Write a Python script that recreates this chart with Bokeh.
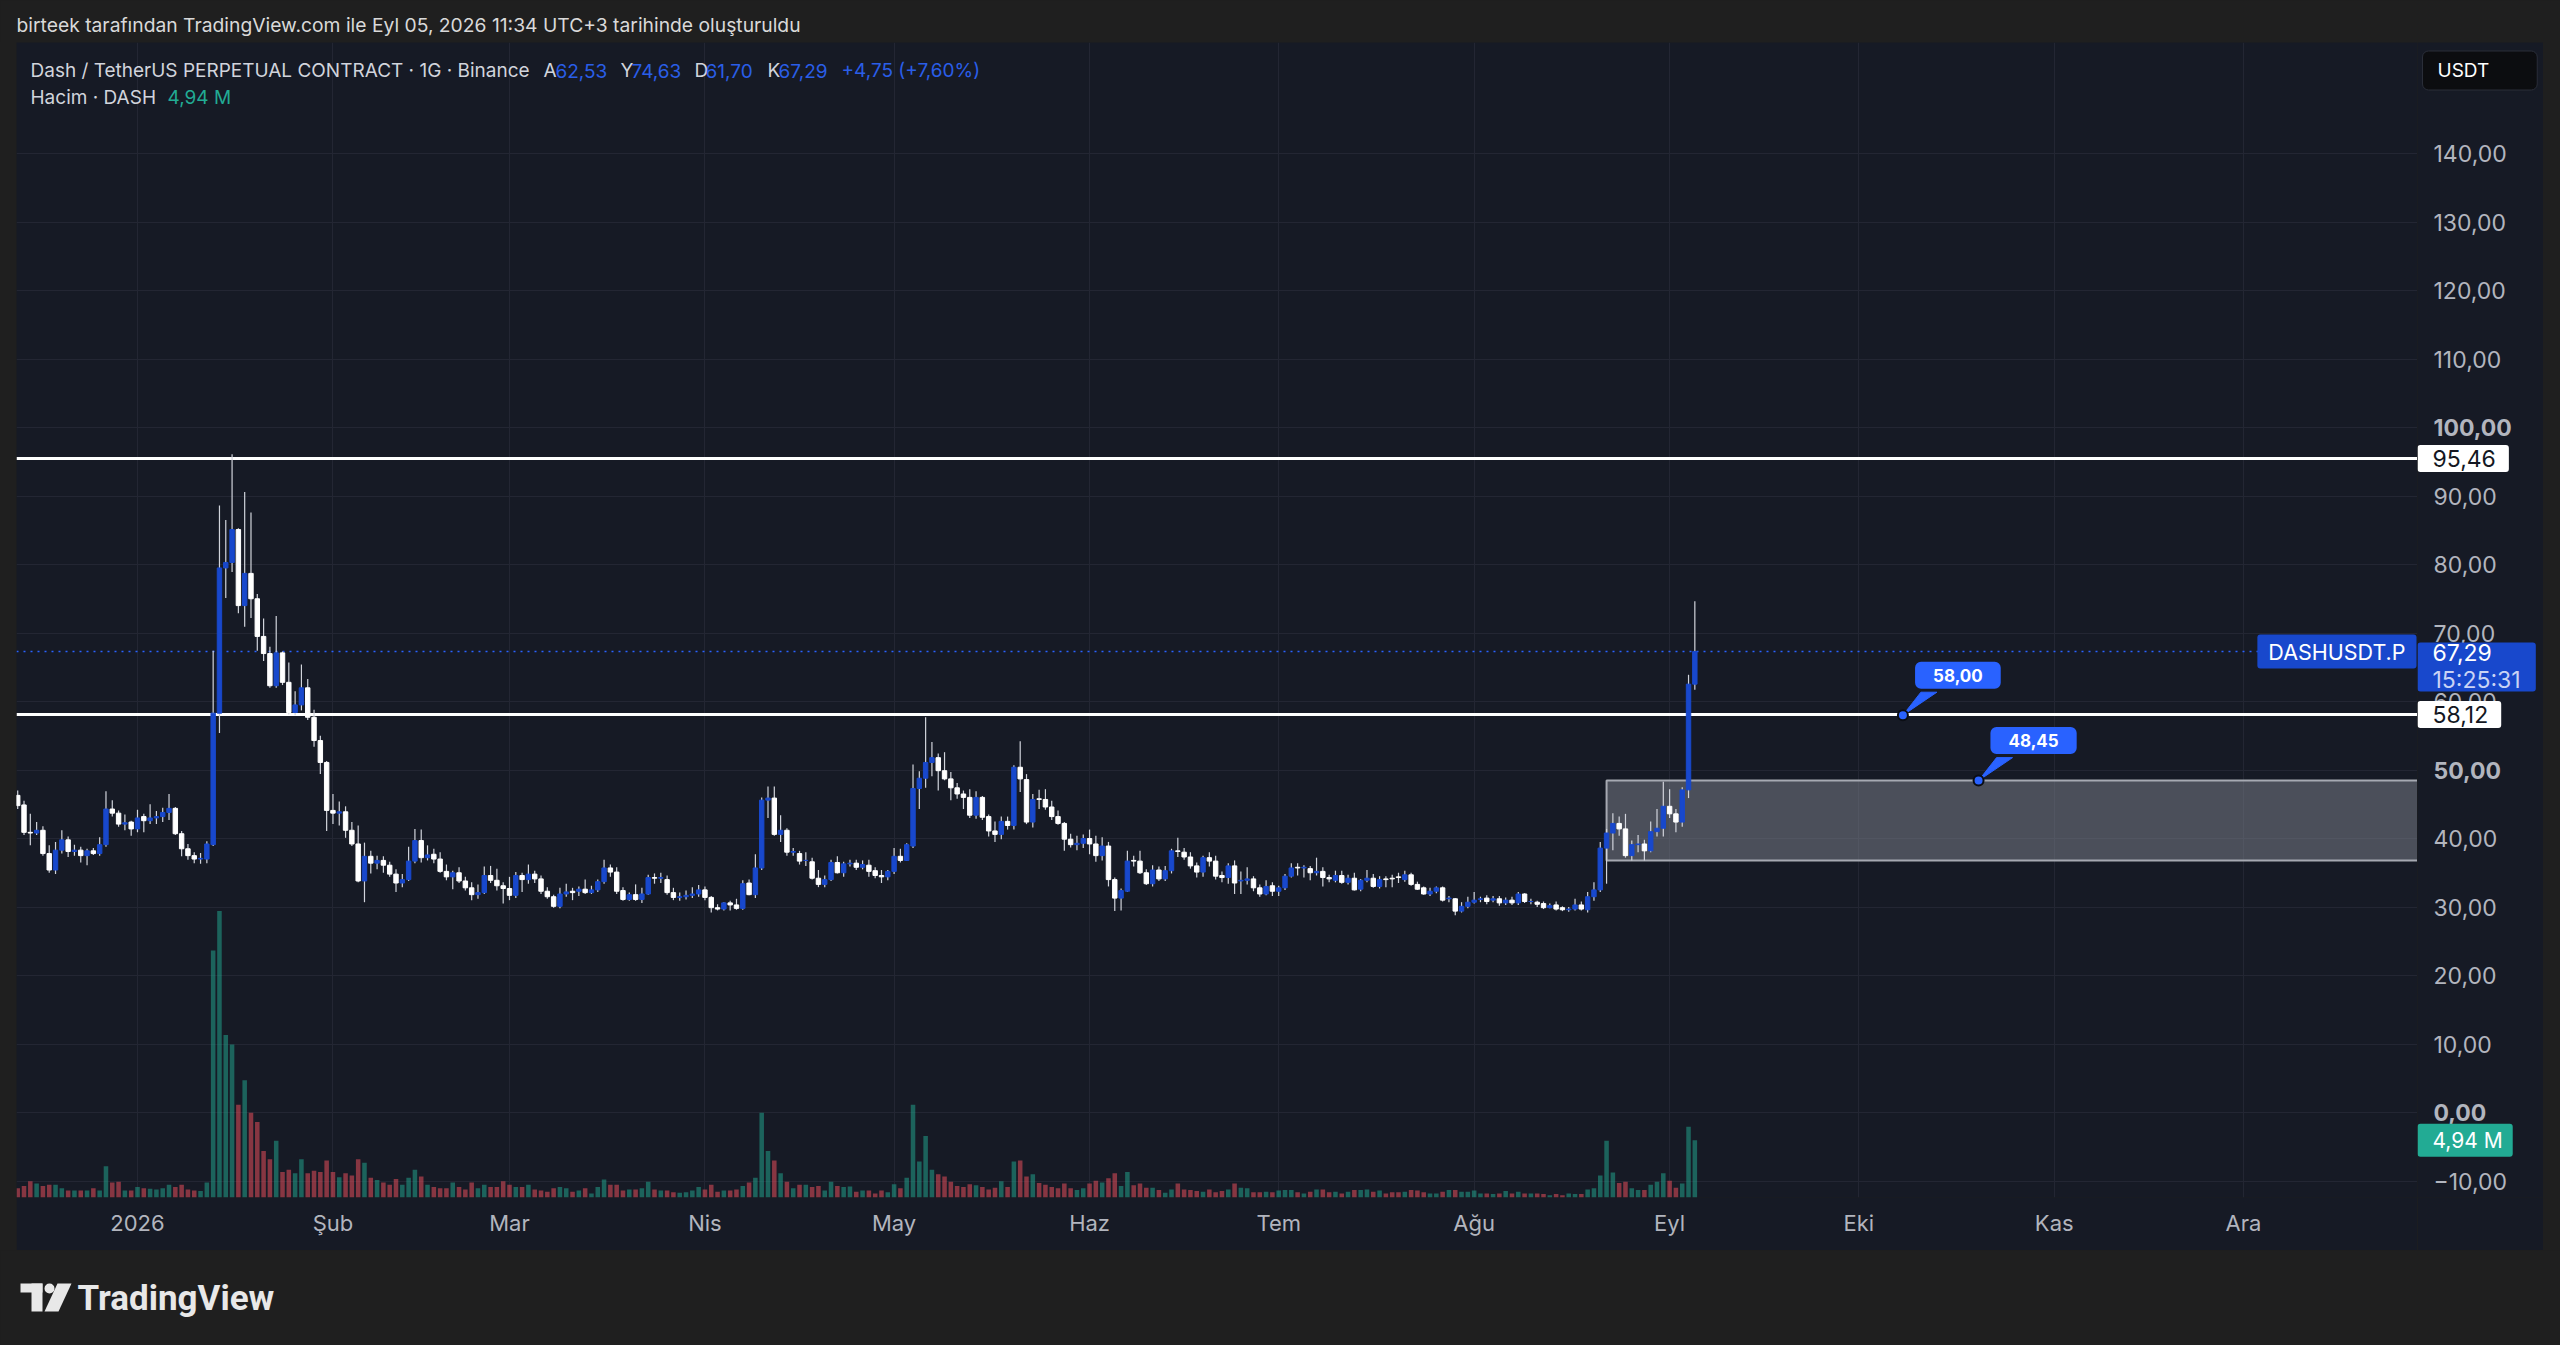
import json
import pandas as pd
from bokeh.plotting import figure
from bokeh.models import Range1d, FixedTicker, CustomJSTickFormatter, Label, ColumnDataSource, Spacer, Grid
from bokeh.layouts import column, row
from bokeh.core.properties import value
from bokeh.embed import file_html
from bokeh.resources import INLINE

# ---------------- data (daily candles, DASHUSDT.P) ----------------
first_day = "2025-12-13"
opens = [
    46.3, 44.9, 40.9, 40.8, 41.2, 37.8, 35.4, 38.3, 39.8, 38.1,
    38.3, 37.5, 38.2, 37.8, 39.1, 44.3, 43.7, 42.1, 42.4, 41.4,
    43.2, 42.6, 43.0, 43.2, 43.8, 44.4, 40.7, 38.5, 37.5, 37.0,
    37.0, 39.1, 58.3, 79.5, 80.3, 85.1, 74.0, 78.7, 75.0, 69.5,
    67.0, 62.3, 67.1, 62.8, 58.4, 59.5, 62.0, 57.7, 54.3, 51.1,
    44.1, 43.7, 43.9, 41.2, 39.2, 33.8, 37.4, 36.4, 36.8, 36.1,
    34.8, 33.5, 34.0, 36.7, 39.7, 37.2, 37.7, 37.0, 35.2, 34.4,
    35.0, 33.8, 32.8, 31.8, 32.1, 34.6, 33.9, 33.1, 32.7, 31.7,
    34.6, 34.0, 34.8, 34.1, 32.3, 31.5, 30.1, 31.9, 32.3, 32.3,
    32.6, 32.1, 32.5, 33.7, 35.7, 35.1, 32.4, 31.1, 31.8, 31.1,
    31.9, 34.3, 34.2, 34.0, 32.1, 31.4, 31.5, 31.7, 31.9, 32.5,
    31.4, 29.9, 29.7, 30.6, 30.3, 29.8, 33.5, 31.8, 35.7, 45.6,
    45.9, 40.6, 41.2, 38.0, 37.8, 36.8, 36.6, 34.2, 33.3, 34.0,
    36.5, 35.0, 36.3, 36.4, 35.8, 36.1, 35.3, 34.6, 34.4, 35.2,
    37.4, 36.8, 38.9, 47.3, 48.8, 51.1, 51.8, 49.9, 48.7, 47.4,
    46.5, 46.0, 43.4, 46.0, 43.2, 41.1, 40.6, 42.5, 41.9, 50.4,
    48.6, 42.4, 45.8, 45.7, 44.6, 43.2, 42.2, 39.9, 39.1, 39.3,
    40.0, 39.2, 37.5, 38.9, 34.0, 31.3, 32.3, 36.8, 36.7, 35.0,
    33.4, 35.4, 34.1, 35.3, 38.2, 38.0, 37.3, 36.0, 35.1, 37.2,
    36.7, 34.6, 34.3, 36.0, 33.8, 33.9, 34.1, 32.8, 31.9, 33.1,
    32.3, 32.8, 34.5, 35.8, 35.7, 35.6, 35.0, 35.2, 34.3, 33.9,
    34.6, 33.6, 34.2, 32.6, 33.9, 34.2, 33.0, 34.1, 34.2, 34.4,
    34.0, 34.7, 33.3, 32.8, 31.9, 32.3, 32.8, 31.2, 31.2, 29.4,
    30.1, 30.7, 31.1, 31.3, 31.0, 31.2, 30.6, 31.0, 30.6, 31.9,
    30.8, 30.7, 30.5, 29.9, 30.3, 29.9, 29.6, 29.7, 30.3, 29.6,
    31.5, 32.5, 38.6, 40.8, 42.2, 41.4, 37.5, 39.1, 39.2, 38.2,
    41.0, 41.5, 44.7, 43.6, 42.4, 47.1, 62.53,
]
closes = [
    44.8, 40.9, 40.8, 41.2, 37.8, 35.4, 38.3, 39.8, 38.1, 38.3,
    37.5, 38.2, 37.8, 39.1, 44.3, 43.7, 42.1, 42.3, 41.4, 43.0,
    42.6, 43.0, 43.2, 43.8, 44.4, 40.7, 38.5, 37.5, 37.0, 37.1,
    39.2, 58.3, 79.5, 80.3, 85.1, 74.0, 78.7, 75.0, 69.5, 67.0,
    62.3, 67.1, 62.8, 58.4, 59.5, 62.0, 57.7, 54.3, 51.1, 44.1,
    43.7, 43.9, 41.2, 39.2, 33.8, 37.4, 36.4, 36.8, 36.1, 34.8,
    33.5, 34.0, 36.7, 39.7, 37.2, 37.6, 37.0, 35.2, 34.4, 35.0,
    33.8, 32.8, 31.8, 32.1, 34.6, 33.9, 33.1, 32.7, 31.7, 34.6,
    34.0, 34.8, 34.1, 32.3, 31.5, 30.1, 31.9, 32.2, 32.1, 32.6,
    32.1, 32.5, 33.7, 35.7, 35.1, 32.3, 31.1, 31.8, 31.1, 31.9,
    34.3, 34.2, 34.3, 32.1, 31.4, 31.5, 31.7, 31.9, 32.5, 31.4,
    29.9, 29.7, 30.6, 30.3, 29.8, 33.4, 31.8, 35.7, 45.6, 45.9,
    40.6, 41.2, 38.0, 38.1, 36.7, 36.8, 34.2, 33.3, 34.0, 36.5,
    35.0, 36.3, 36.4, 35.8, 36.2, 35.2, 34.6, 34.4, 35.2, 37.4,
    36.8, 39.1, 47.3, 48.8, 51.1, 51.8, 49.9, 48.7, 47.4, 46.5,
    46.0, 43.4, 46.0, 43.1, 41.1, 40.6, 42.5, 41.9, 50.4, 48.7,
    42.4, 45.7, 45.7, 44.6, 43.2, 42.2, 39.9, 39.1, 39.3, 40.0,
    39.2, 37.5, 38.9, 34.0, 31.3, 32.4, 36.7, 36.7, 35.0, 33.4,
    35.4, 34.1, 35.3, 38.2, 38.1, 37.3, 36.0, 35.1, 37.2, 36.7,
    34.5, 34.3, 36.0, 33.5, 33.9, 34.1, 32.8, 31.9, 33.0, 32.3,
    32.8, 34.5, 35.7, 35.7, 35.8, 35.0, 35.2, 34.3, 34.1, 34.6,
    33.6, 34.2, 32.5, 33.9, 34.2, 33.0, 34.0, 34.0, 34.1, 34.3,
    34.7, 33.3, 32.6, 31.9, 32.3, 32.8, 31.0, 31.3, 29.4, 30.1,
    30.7, 31.0, 31.2, 30.8, 31.2, 30.6, 31.0, 30.6, 31.9, 30.8,
    30.8, 30.4, 29.9, 30.2, 29.7, 29.6, 29.7, 30.3, 29.7, 31.5,
    32.5, 38.6, 40.8, 42.2, 41.4, 37.5, 39.1, 39.2, 38.2, 41.0,
    41.5, 44.7, 43.6, 42.4, 47.1, 62.53, 67.29,
]
highs = [
    47.0, 45.5, 43.6, 42.4, 41.8, 39.0, 39.5, 41.2, 40.3, 39.1,
    38.8, 38.5, 38.6, 40.2, 46.9, 45.6, 44.1, 43.5, 42.6, 44.2,
    43.6, 45.0, 44.0, 44.5, 46.5, 44.6, 41.1, 39.2, 38.0, 37.9,
    39.6, 67.4, 88.6, 86.5, 96.1, 85.3, 90.6, 87.6, 75.7, 72.1,
    68.0, 72.5, 67.3, 65.7, 61.5, 65.4, 63.3, 58.8, 55.0, 51.3,
    46.5, 45.4, 44.7, 42.4, 41.9, 39.4, 38.2, 37.5, 37.4, 36.6,
    35.5, 34.8, 38.8, 41.4, 41.3, 39.0, 38.5, 38.0, 36.2, 35.3,
    35.8, 34.4, 33.6, 33.3, 35.9, 36.0, 35.6, 33.6, 34.4, 35.1,
    35.0, 36.2, 35.3, 34.6, 32.9, 31.8, 32.8, 33.4, 32.8, 33.0,
    34.0, 33.1, 34.0, 36.9, 36.2, 35.8, 32.9, 32.1, 33.3, 32.8,
    34.7, 34.9, 35.0, 34.6, 32.8, 32.1, 32.4, 32.9, 33.2, 33.0,
    31.6, 30.4, 30.7, 30.9, 31.2, 33.9, 34.0, 37.7, 46.0, 47.6,
    47.6, 43.4, 41.5, 38.6, 38.2, 38.0, 37.2, 35.4, 34.6, 36.9,
    37.4, 36.6, 36.9, 36.9, 36.8, 36.9, 35.8, 35.4, 35.4, 38.6,
    38.5, 39.3, 50.8, 49.8, 57.7, 54.1, 52.4, 52.6, 49.7, 48.1,
    47.0, 47.2, 46.9, 46.2, 43.5, 42.5, 43.2, 43.2, 50.7, 54.2,
    49.4, 46.5, 47.1, 47.2, 45.5, 44.1, 42.4, 40.7, 40.4, 40.6,
    41.3, 40.4, 40.2, 39.5, 34.3, 32.7, 38.2, 37.5, 38.2, 35.5,
    36.1, 35.9, 36.0, 38.5, 40.1, 38.6, 38.0, 36.5, 37.5, 38.0,
    37.5, 35.2, 36.4, 36.8, 35.2, 35.8, 34.5, 33.3, 33.9, 33.6,
    33.1, 34.8, 36.4, 36.4, 36.1, 36.0, 37.2, 35.8, 34.7, 35.3,
    35.3, 34.7, 35.0, 34.1, 35.4, 34.8, 34.5, 34.5, 34.7, 35.0,
    35.3, 35.0, 33.7, 33.0, 32.8, 33.0, 33.0, 31.6, 31.3, 30.7,
    31.5, 32.2, 31.5, 31.7, 31.6, 31.6, 31.4, 31.5, 32.2, 32.0,
    31.2, 30.9, 30.8, 30.5, 30.8, 30.1, 30.0, 31.2, 30.8, 32.2,
    33.6, 39.5, 41.4, 43.7, 43.2, 43.6, 39.7, 40.5, 39.8, 42.5,
    44.3, 48.3, 47.2, 44.3, 47.5, 63.9, 74.63,
]
lows = [
    44.3, 40.5, 39.0, 40.5, 37.5, 35.0, 34.8, 37.8, 37.3, 37.5,
    36.5, 36.1, 37.6, 37.5, 38.8, 43.2, 41.7, 41.2, 40.4, 40.9,
    40.9, 42.1, 42.1, 42.4, 42.7, 40.5, 37.4, 36.9, 36.4, 36.3,
    36.4, 38.9, 55.4, 75.1, 78.9, 72.9, 70.9, 72.2, 67.4, 65.9,
    62.0, 62.0, 62.4, 58.1, 58.0, 58.7, 57.3, 53.4, 49.4, 41.1,
    42.1, 41.9, 40.1, 38.9, 33.6, 30.7, 34.9, 35.5, 35.0, 34.4,
    32.2, 32.9, 33.8, 36.4, 36.5, 36.8, 36.4, 35.0, 33.9, 32.6,
    33.5, 32.4, 31.0, 31.2, 31.9, 33.5, 32.4, 30.5, 31.0, 31.3,
    32.2, 33.4, 33.5, 31.9, 31.2, 29.9, 29.8, 31.5, 31.0, 31.6,
    31.9, 31.9, 32.2, 33.4, 34.4, 31.9, 30.9, 30.9, 30.9, 30.6,
    31.8, 33.4, 33.5, 31.8, 31.0, 30.9, 31.1, 31.3, 31.5, 31.0,
    29.2, 29.5, 29.5, 29.5, 29.6, 29.6, 31.7, 31.3, 35.4, 43.0,
    40.4, 39.5, 37.5, 37.5, 36.2, 36.0, 34.0, 32.9, 32.9, 33.8,
    34.9, 34.4, 35.9, 35.4, 35.5, 34.4, 34.2, 33.5, 33.9, 34.8,
    36.5, 36.7, 38.6, 44.3, 47.4, 49.1, 47.0, 48.5, 45.6, 45.8,
    44.3, 43.0, 42.9, 42.7, 40.3, 39.5, 39.9, 41.3, 41.3, 46.8,
    42.1, 41.6, 44.3, 44.2, 42.7, 42.0, 38.2, 38.7, 38.3, 38.6,
    37.7, 36.6, 36.8, 33.0, 29.4, 29.5, 32.2, 35.9, 34.8, 33.2,
    33.0, 33.8, 33.8, 34.9, 37.3, 36.9, 35.6, 34.3, 34.4, 35.9,
    34.0, 33.6, 33.4, 31.9, 31.9, 33.3, 32.3, 31.5, 31.7, 31.6,
    31.6, 32.5, 34.3, 34.6, 34.3, 33.9, 34.6, 33.0, 33.6, 33.6,
    33.4, 33.3, 32.4, 32.3, 33.6, 32.8, 32.7, 32.9, 32.9, 33.5,
    33.7, 33.1, 32.5, 31.8, 31.6, 32.0, 30.8, 30.7, 28.8, 29.2,
    29.8, 30.5, 30.7, 30.4, 30.7, 30.2, 30.3, 30.3, 30.3, 30.6,
    30.4, 30.0, 29.7, 29.8, 29.5, 29.4, 29.3, 29.5, 29.5, 29.2,
    30.9, 32.2, 33.4, 38.3, 40.4, 37.2, 36.8, 38.0, 36.8, 38.0,
    40.3, 40.3, 43.0, 40.9, 41.7, 45.9, 61.70,
]
volumes_m = [
    0.8, 1.0, 1.4, 1.2, 1.0, 1.1, 1.1, 0.8, 0.6, 0.6,
    0.6, 0.6, 0.8, 0.6, 2.7, 1.3, 1.35, 0.6, 0.6, 0.9,
    0.8, 0.75, 0.7, 0.8, 1.1, 0.9, 1.1, 0.7, 0.6, 0.55,
    1.3, 21.3, 24.7, 14.0, 13.2, 8.0, 10.1, 7.3, 6.5, 4.0,
    3.3, 4.9, 2.2, 2.4, 2.1, 3.3, 2.1, 2.3, 2.2, 3.2,
    2.2, 1.75, 2.1, 1.9, 3.3, 3.0, 1.7, 1.5, 1.3, 1.1,
    1.6, 1.1, 1.7, 2.4, 1.8, 1.1, 0.9, 0.8, 0.8, 1.3,
    0.9, 0.7, 1.3, 0.8, 1.1, 0.9, 0.9, 1.4, 1.1, 0.9,
    0.9, 1.1, 0.7, 0.6, 0.5, 0.8, 0.9, 0.8, 0.5, 0.6,
    0.8, 0.35, 0.9, 1.55, 1.1, 1.1, 0.6, 0.7, 0.7, 0.8,
    1.35, 0.7, 0.6, 0.6, 0.45, 0.4, 0.45, 0.6, 0.9, 0.7,
    1.1, 0.5, 0.6, 0.6, 0.7, 1.0, 1.3, 1.7, 7.3, 4.0,
    3.2, 2.1, 1.35, 0.8, 1.1, 1.1, 0.9, 1.0, 0.6, 1.35,
    1.0, 0.9, 0.95, 0.5, 0.6, 0.6, 0.35, 0.6, 0.45, 1.15,
    0.8, 1.7, 8.0, 3.1, 5.3, 2.4, 2.0, 1.8, 1.35, 1.0,
    0.9, 1.15, 1.05, 0.9, 0.7, 0.85, 1.4, 0.9, 3.1, 3.2,
    1.8, 2.0, 1.25, 1.1, 0.9, 0.8, 1.2, 0.8, 0.65, 0.8,
    1.2, 1.45, 1.3, 1.65, 2.1, 1.0, 2.2, 1.05, 1.2, 0.85,
    0.85, 0.65, 0.4, 0.7, 1.2, 0.7, 0.65, 0.55, 0.5, 0.7,
    0.45, 0.55, 0.7, 1.2, 0.85, 0.8, 0.45, 0.45, 0.5, 0.45,
    0.6, 0.65, 0.65, 0.45, 0.35, 0.5, 0.7, 0.7, 0.45, 0.5,
    0.35, 0.5, 0.65, 0.65, 0.7, 0.5, 0.6, 0.35, 0.45, 0.45,
    0.5, 0.65, 0.6, 0.45, 0.35, 0.35, 0.5, 0.65, 0.65, 0.5,
    0.5, 0.6, 0.35, 0.35, 0.3, 0.35, 0.55, 0.35, 0.5, 0.35,
    0.35, 0.35, 0.3, 0.2, 0.3, 0.2, 0.35, 0.3, 0.3, 0.7,
    0.8, 1.9, 4.9, 2.15, 1.25, 1.35, 0.8, 0.65, 0.65, 1.1,
    1.35, 2.1, 1.45, 0.85, 1.2, 6.1, 4.94,
]

month_labels = ["2026", "Şub", "Mar", "Nis", "May", "Haz", "Tem", "Ağu", "Eyl", "Eki", "Kas", "Ara"]
price_ticks = [-10, 0, 10, 20, 30, 40, 50, 60, 70, 80, 90, 100, 110, 120, 130, 140]
bold_ticks = [0, 50, 100]
level_lines = [95.46, 58.12]
level_texts = ["95,46", "58,12"]
last_price = 67.29
last_price_text = "67,29"
countdown_text = "15:25:31"
symbol_text = "DASHUSDT.P"
currency_text = "USDT"
last_volume_m = 4.94
last_volume_text = "4,94 M"
zone_start = "2026-08-22"
zone_top = 48.45
zone_bottom = 36.8
callout_dates = ["2026-10-08", "2026-10-20"]
callout_values = [58.00, 48.45]
callout_texts = ["58,00", "48,45"]
header_title = "Dash / TetherUS PERPETUAL CONTRACT · 1G · Binance"
header_keys = ["A", "Y", "D", "K"]
header_vals = ["62,53", "74,63", "61,70", "67,29"]
header_change = "+4,75 (+7,60%)"
volume_title = "Hacim · DASH"
credit_text = "birteek tarafından TradingView.com ile Eyl 05, 2026 11:34 UTC+3 tarihinde oluşturuldu"
brand_text = "TradingView"

# ---------------- layout helpers (page pixel -> data) ----------------
DAY = 86400000
JAN1 = pd.Timestamp("2026-01-01").value // 10**6
PX_DAY, PX_UNIT, JAN1_PX, ZERO_PY = 6.305, 6.85, 137.0, 1112.0
def X(px): return JAN1 + (px - JAN1_PX) / PX_DAY * DAY
def Y(py): return (ZERO_PY - py) / PX_UNIT
def ms(s): return pd.Timestamp(s).value // 10**6

FONT = "Inter"
PANE = "#161a25"
OUTER = "#1f1f1f"
TXT = "#d1d4dc"
AX = "#b2b5be"
UPC = "#1848cc"
DNC = "#ffffff"
BLUE = "#2962ff"
GRID = "#232633"

x0, x1 = X(16), X(2417)
y0, y1 = Y(1197), Y(42)
price_range = Range1d(y0, y1)
vol_range = Range1d(0, (1197 - 42) / 11.6)

dates = pd.date_range(first_day, periods=len(closes), freq="D")
t = [d.value // 10**6 for d in dates]
up = [c >= o for o, c in zip(opens, closes)]
src = ColumnDataSource(dict(
    t=t, h=highs, l=lows,
    top=[max(o, c) for o, c in zip(opens, closes)],
    bot=[min(o, c) for o, c in zip(opens, closes)],
    vol=volumes_m,
    ccol=[UPC if u else DNC for u in up],
    vcol=["#22ab94" if u else "#f7525f" for u in up],
))

# ---------------- main pane ----------------
p = figure(width=2401, height=1208, x_axis_type="datetime", y_axis_location=None,
           x_range=Range1d(x0, x1), y_range=price_range,
           output_backend="svg", toolbar_location=None,
           min_border_left=0, min_border_top=0, min_border_right=0, min_border_bottom=53,
           background_fill_color=PANE, border_fill_color=PANE, outline_line_color=None)
p.extra_y_ranges = {"vol": vol_range}

month_ms = [d.value // 10**6 for d in pd.date_range("2026-01-01", periods=12, freq="MS")]
p.xaxis.ticker = FixedTicker(ticks=month_ms)
p.xgrid.ticker = FixedTicker(ticks=month_ms)
p.xaxis.formatter = CustomJSTickFormatter(
    code="const names = %s; return names[new Date(tick).getUTCMonth()];" % json.dumps(month_labels))
p.xaxis.axis_line_color = None
p.xaxis.major_tick_line_color = None
p.xaxis.minor_tick_line_color = None
p.xaxis.major_label_text_color = AX
p.xaxis.major_label_text_font = FONT
p.xaxis.major_label_text_font_size = "22px"
p.xaxis.major_label_standoff = 6
for g in p.ygrid:
    g.visible = False
p.xgrid.grid_line_color = GRID
p.add_layout(Grid(dimension=1, ticker=FixedTicker(ticks=price_ticks), grid_line_color=GRID))

# volume overlay
p.vbar(x="t", top="vol", bottom=0, width=0.72 * DAY, fill_color="vcol", fill_alpha=0.5,
       line_color=None, y_range_name="vol", source=src)

# zone box
p.quad(left=[ms(zone_start)], right=[x1 + 10 * DAY], top=[zone_top], bottom=[zone_bottom],
       fill_color="#787b86", fill_alpha=0.55, line_color="#a6a9b2", line_width=2)

# horizontal levels
p.segment(x0=[x0] * len(level_lines), x1=[x1] * len(level_lines), y0=level_lines, y1=level_lines,
          line_color="#ffffff", line_width=3)
p.segment(x0=[x0], x1=[x1], y0=[last_price], y1=[last_price], line_color=BLUE,
          line_width=1.5, line_dash="2 5")

# candles
p.segment(x0="t", x1="t", y0="l", y1="h", line_color="#d1d4dc", line_width=1.2, source=src)
p.vbar(x="t", top="top", bottom="bot", width=0.7 * DAY, fill_color="ccol", line_color="ccol",
       line_width=1, source=src)

# callouts
cx = [ms(d) for d in callout_dates]
dxd = DAY / PX_DAY
p.patches(xs=[[x, x + 18 * dxd, x + 34 * dxd] for x in cx],
          ys=[[v, v + 23 / PX_UNIT, v + 23 / PX_UNIT] for v in callout_values],
          fill_color=BLUE, line_color=BLUE)
p.scatter(x=cx, y=callout_values, size=10, fill_color=BLUE, line_color="#0b0e14", line_width=2)
for x, v, s in zip(cx, callout_values, callout_texts):
    p.add_layout(Label(x=x + 55 * dxd, y=v + 40 / PX_UNIT, text=s, text_align="center",
                       text_baseline="middle", text_color="#ffffff", text_font=FONT,
                       text_font_style="bold", text_font_size="17px",
                       background_fill_color=BLUE, border_radius=6,
                       padding=dict(left=18, right=18, top=7, bottom=7)))

# pane header
def plabel(px, py, text, color, size="19px"):
    p.add_layout(Label(x=X(px), y=Y(py), text=text, text_baseline="middle", text_color=color,
                       text_font=FONT, text_font_size=size))
plabel(30, 70, header_title, TXT)
for k, v, a, b in zip(header_keys, header_vals, [543, 620, 694, 767], [555, 631, 705, 778]):
    plabel(a, 70, k, TXT)
    plabel(b, 70, v, "#2a5ee8")
plabel(841, 70, header_change, "#2a5ee8")
plabel(30, 97, volume_title, TXT)
plabel(167, 97, last_volume_text, "#22ab94")

# symbol tag at right edge of pane (anchor = box edge)
p.add_layout(Label(x=X(2416), y=last_price, text=symbol_text, text_align="right", text_baseline="middle",
                   text_color="#ffffff", text_font=FONT, text_font_size="21.5px",
                   background_fill_color=UPC, border_radius=3,
                   padding=dict(left=11, right=11, top=4, bottom=4)))

# ---------------- price scale (right) ----------------
s = figure(width=126, height=1208, x_range=Range1d(0, 126), y_range=price_range,
           output_backend="svg", toolbar_location=None, x_axis_location=None, y_axis_location=None,
           min_border_left=0, min_border_right=0, min_border_top=0, min_border_bottom=53,
           background_fill_color=PANE, border_fill_color=PANE, outline_line_color=None)
s.extra_y_ranges = {"vol": vol_range}
s.grid.visible = False
tick_src = ColumnDataSource(dict(
    x=[16] * len(price_ticks), y=price_ticks,
    text=[("%.2f" % v).replace(".", ",").replace("-", "\u2212") for v in price_ticks],
    style=["bold" if v in bold_ticks else "normal" for v in price_ticks],
))
s.text(x="x", y="y", text="text", source=tick_src, text_baseline="middle", text_align="left",
       text_color=AX, text_font=value(FONT), text_font_size=value("23px"), text_font_style="style")

def slabel(y, text, bg, color="#ffffff", pad=None, yr="default", size="23px", x=0):
    s.add_layout(Label(x=x, y=y, y_range_name=yr, text=text, text_baseline="middle",
                       text_color=color, text_font=FONT, text_font_size=size,
                       background_fill_color=bg, border_radius=3,
                       padding=pad or dict(left=15, right=13, top=5, bottom=5)))

for v, txt in zip(level_lines, level_texts):
    slabel(v, txt, "#ffffff", color="#131722")
slabel(Y(666.5), last_price_text, UPC, pad=dict(left=15, right=44, top=1, bottom=31))
s.add_layout(Label(x=15, y=Y(679), text=countdown_text, text_baseline="middle",
                   text_color="#c9d3f5", text_font=FONT, text_font_size="23px"))
slabel(last_volume_m, last_volume_text, "#22ab94", yr="vol", size="21px",
       pad=dict(left=15, right=10, top=4, bottom=4))
s.add_layout(Label(x=5, y=Y(70), text=currency_text, text_baseline="middle", text_color="#ffffff",
                   text_font=FONT, text_font_size="19px", background_fill_color="#0c0d10",
                   border_line_color="#2a2e39", border_line_width=1, border_radius=6,
                   padding=dict(left=15, right=48, top=8, bottom=8)))

# ---------------- header strip ----------------
h = figure(width=2560, height=42, x_range=Range1d(0, 2560), y_range=Range1d(0, 42),
           output_backend="svg", toolbar_location=None, x_axis_location=None, y_axis_location=None,
           min_border=0, background_fill_color=OUTER, border_fill_color=OUTER, outline_line_color=None)
h.grid.visible = False
h.add_layout(Label(x=16, y=18, text=credit_text, text_baseline="middle", text_color="#d9d9d9",
                   text_font=FONT, text_font_size="19.3px"))

# ---------------- footer strip (logo) ----------------
FH = 94
f = figure(width=2560, height=FH, x_range=Range1d(0, 2560), y_range=Range1d(0, FH),
           output_backend="svg", toolbar_location=None, x_axis_location=None, y_axis_location=None,
           min_border=0, background_fill_color=OUTER, border_fill_color=OUTER, outline_line_color=None)
f.grid.visible = False
LOGO = "#e8e8e8"
def fy(py): return 1344 - py
f.quad(left=[20, 31], right=[42, 42], top=[fy(1283), fy(1283)], bottom=[fy(1292), fy(1311)],
       fill_color=LOGO, line_color=None)
f.scatter(x=[49], y=[fy(1288)], size=10, fill_color=LOGO, line_color=None)
f.patch(x=[57, 71, 58, 44], y=[fy(1283), fy(1283), fy(1311), fy(1311)], fill_color=LOGO, line_color=None)
f.add_layout(Label(x=77, y=fy(1298), text=brand_text, text_baseline="middle", text_color=LOGO,
                   text_font="Roboto", text_font_style="bold", text_font_size="35px"))

layout = column(h, row(Spacer(width=16, height=1208), p, s, Spacer(width=17, height=1208)), f)
html = file_html(layout, INLINE, title="DASHUSDT.P")
html = html.replace("</head>", "<style>html,body{background:#1f1f1f;}</style></head>", 1)
open("out.html", "w").write(html)
